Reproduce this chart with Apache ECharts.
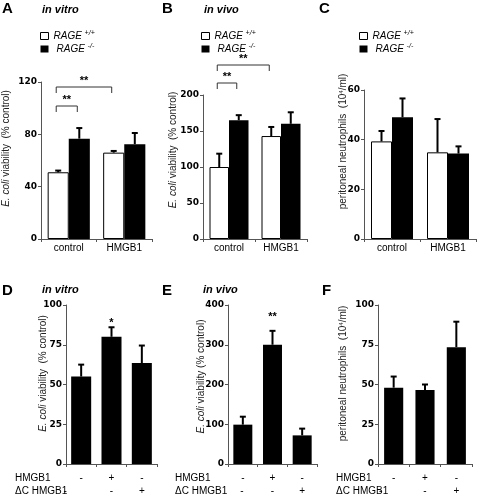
<!DOCTYPE html>
<html><head><meta charset="utf-8">
<script src="https://cdn.jsdelivr.net/npm/echarts@6/dist/echarts.min.js"></script>
<style>html,body{margin:0;padding:0;background:#fff}#c{width:480px;height:496px}</style>
</head><body><div id="c"></div><script>
// ---------- data ----------
const catsTop = ['control', 'HMGB1'];
const seriesNames = ['RAGE +/+', 'RAGE -/-'];
const aWT = [51, 66], aWTerr = [1.3, 1.3], aKO = [76.7, 72.5], aKOerr = [8.1, 8.5];
const bWT = [100, 143], bWTerr = [18.5, 12.6], bKO = [165, 160], bKOerr = [7, 16];
const cWT = [39.3, 34.9], cWTerr = [4.2, 13.4], cKO = [49, 34.4], cKOerr = [7.6, 2.9];
const catsBottom = ['1', '2', '3'];
const hmgb1Row = ['-', '+', '-'];
const dcRow = ['-', '-', '+'];
const dVal = [55, 80, 63.5], dErr = [7.5, 6, 11];
const eVal = [99, 300, 72], eErr = [20, 35, 17];
const fVal = [48, 46.5, 73.5], fErr = [7, 3.5, 16];
const dSig = ['', '*', ''];
const eSig = ['', '**', ''];
// significance brackets: [fromCat, fromSeries, toCat, toSeries, label]
const aBrackets = [[0, 0, 0, 1, '**'], [0, 0, 1, 0, '**']];
const bBrackets = [[0, 0, 0, 1, '**'], [0, 0, 1, 0, '**']];
const yMaxes = [120, 200, 60, 100, 400, 100];
const yIntervals = [40, 50, 20, 25, 100, 25];

// ---------- style / layout ----------
const FONT = "'Liberation Sans', Arial, sans-serif";
const TICKFONT = "'DejaVu Sans', sans-serif";
const AX = '#555';
const layout = [
  {left: 41, top: 82, width: 111, height: 157, gap: 0.24, nameGap: 30, shift: 12},
  {left: 203, top: 95, width: 104, height: 144, gap: 0.25, nameGap: 25, shift: 17},
  {left: 364, top: 90, width: 112, height: 149, gap: 0.25, nameGap: 16, shift: 23},
  {left: 66, top: 305, width: 91, height: 159, gap: 0.34, nameGap: 18, shift: 11},
  {left: 228, top: 305, width: 89, height: 159, gap: 0.36, nameGap: 22, shift: 8},
  {left: 378, top: 305, width: 94, height: 159, gap: 0.39, nameGap: 30, shift: 11}
];
const bracketLevels = [[24, 5], [-12, -30]]; // px from grid top, per bracket
const sigGap = [4, 14];
const dcShift = [16, 1, 13];

const yNames = [
  '{i|E. coli} viability  (% control)',
  '{i|E. coli} viability  (% control)',
  'peritoneal neutrophils  (10{sup|4}/ml)',
  '{i|E. coli} viability  (% control)',
  '{i|E. coli} viability (% control)',
  'peritoneal neutrophils  (10{sup|4}/ml)'
];

const chart = echarts.init(document.getElementById('c'), null, {renderer: 'canvas'});

const grids = layout.map(l => ({left: l.left, top: l.top, width: l.width, height: l.height, containLabel: false, outerBoundsMode: 'none'}));

const yAxes = layout.map((l, k) => ({
  gridIndex: k, type: 'value', min: 0, max: yMaxes[k], interval: yIntervals[k],
  axisLine: {show: true, lineStyle: {color: AX, width: 1}},
  axisTick: {show: true, length: 3, lineStyle: {color: AX}},
  splitLine: {show: false},
  axisLabel: {fontFamily: TICKFONT, fontWeight: 'bold', fontSize: 9, color: '#000', margin: 4},
  name: yNames[k], nameLocation: 'middle', nameRotate: 90, nameGap: l.nameGap, nameMoveOverlap: false,
  nameTextStyle: {
    fontFamily: FONT, fontSize: 10, color: '#222', padding: [0, 0, 0, 2 * l.shift],
    rich: {
      i: {fontFamily: FONT, fontSize: 10, fontStyle: 'italic', color: '#222'},
      sup: {fontFamily: FONT, fontSize: 6, color: '#222', verticalAlign: 'top'}
    }
  }
}));

const rowRich = k => ({
  a: {fontFamily: FONT, fontSize: 10, lineHeight: 13, color: '#000'},
  b: {fontFamily: FONT, fontSize: 10, lineHeight: 13, color: '#000'},
  b0: {fontFamily: FONT, fontSize: 10, lineHeight: 13, color: '#000', padding: [0, 2 * dcShift[k], 0, 0]}
});

const xAxes = layout.map((l, k) => {
  const top = k < 3;
  return {
    gridIndex: k, type: 'category', data: top ? catsTop : catsBottom,
    axisLine: {show: true, lineStyle: {color: AX, width: 1}},
    axisTick: {show: true, length: 3, lineStyle: {color: AX}},
    axisLabel: top
      ? {fontFamily: FONT, fontSize: 10, color: '#000', margin: 4, interval: 0}
      : {interval: 0, margin: 8,
         formatter: (v, i) => `{a|${hmgb1Row[i]}}\n{${i === 0 ? 'b0' : 'b'}|${dcRow[i]}}`,
         rich: rowRich(k - 3)}
  };
});

function barOffset(band, gap, slot, n) {
  const total = band * (1 - gap), bw = total / n;
  return -total / 2 + bw * (slot + 0.5);
}

function errSeries(gi, vals, errs, slot, n) {
  const gap = layout[gi].gap;
  return {
    type: 'custom', xAxisIndex: gi, yAxisIndex: gi, z: 5, clip: false, silent: true,
    data: vals.map((v, i) => [i, v, errs[i]]),
    renderItem(params, api) {
      const i = api.value(0), v = api.value(1), e = api.value(2);
      const band = api.size([1, 0])[0];
      const dx = barOffset(band, gap, slot, n);
      const p0 = api.coord([i, v]), p1 = api.coord([i, v + e]);
      const x = p0[0] + dx;
      return {type: 'group', children: [
        {type: 'line', shape: {x1: x, y1: p0[1], x2: x, y2: p1[1]}, style: {stroke: '#000', lineWidth: 2}},
        {type: 'line', shape: {x1: x - 3, y1: p1[1], x2: x + 3, y2: p1[1]}, style: {stroke: '#000', lineWidth: 2}}
      ]};
    }
  };
}

function bracketSeries(gi, brackets, levels) {
  const gap = layout[gi].gap;
  return {
    type: 'custom', xAxisIndex: gi, yAxisIndex: gi, z: 6, clip: false, silent: true,
    data: brackets.map((b, k) => [b[0], b[1], b[2], b[3], k]),
    renderItem(params, api) {
      const band = api.size([1, 0])[0];
      const k = api.value(4);
      const top = api.coord([0, yMaxes[gi]])[1] + levels[k];
      const x1 = api.coord([api.value(0), 0])[0] + barOffset(band, gap, api.value(1), 2) - 2;
      const x2 = api.coord([api.value(2), 0])[0] + barOffset(band, gap, api.value(3), 2) - 2;
      return {type: 'group', children: [
        {type: 'polyline', shape: {points: [[x1, top + 6], [x1, top], [x2, top], [x2, top + 6]]},
         style: {stroke: '#333', lineWidth: 1, fill: null}},
        {type: 'text', style: {x: (x1 + x2) / 2, y: top - 6, text: brackets[k][4], align: 'center', verticalAlign: 'middle',
          font: "bold 11px 'Liberation Sans', Arial, sans-serif", fill: '#000'}}
      ]};
    }
  };
}

function sigSeries(gi, vals, errs, sig, g) {
  return {
    type: 'custom', xAxisIndex: gi, yAxisIndex: gi, z: 6, clip: false, silent: true,
    data: vals.map((v, i) => [i, v + errs[i]]),
    renderItem(params, api) {
      const p = api.coord([api.value(0), api.value(1)]);
      return {type: 'text', style: {x: p[0], y: p[1] - g, text: sig[params.dataIndex], align: 'center', verticalAlign: 'middle',
        font: "bold 11px 'Liberation Sans', Arial, sans-serif", fill: '#000'}};
    }
  };
}

const whiteStyle = {color: '#fff', borderColor: '#000', borderWidth: 1};
const blackStyle = {color: '#000'};
function pairBars(gi, wt, ko) {
  const gapPct = Math.round(layout[gi].gap * 100) + '%';
  return [
    {type: 'bar', name: seriesNames[0], xAxisIndex: gi, yAxisIndex: gi, data: wt, barGap: '0%', barCategoryGap: gapPct, itemStyle: whiteStyle, silent: true},
    {type: 'bar', name: seriesNames[1], xAxisIndex: gi, yAxisIndex: gi, data: ko, barGap: '0%', barCategoryGap: gapPct, itemStyle: blackStyle, silent: true}
  ];
}
function singleBars(gi, vals) {
  const gapPct = Math.round(layout[gi].gap * 100) + '%';
  return {type: 'bar', name: 'panel' + gi, xAxisIndex: gi, yAxisIndex: gi, data: vals, barCategoryGap: gapPct, itemStyle: blackStyle, silent: true};
}

const series = [
  ...pairBars(0, aWT, aKO), errSeries(0, aWT, aWTerr, 0, 2), errSeries(0, aKO, aKOerr, 1, 2), bracketSeries(0, aBrackets, bracketLevels[0]),
  ...pairBars(1, bWT, bKO), errSeries(1, bWT, bWTerr, 0, 2), errSeries(1, bKO, bKOerr, 1, 2), bracketSeries(1, bBrackets, bracketLevels[1]),
  ...pairBars(2, cWT, cKO), errSeries(2, cWT, cWTerr, 0, 2), errSeries(2, cKO, cKOerr, 1, 2),
  singleBars(3, dVal), errSeries(3, dVal, dErr, 0, 1), sigSeries(3, dVal, dErr, dSig, sigGap[0]),
  singleBars(4, eVal), errSeries(4, eVal, eErr, 0, 1), sigSeries(4, eVal, eErr, eSig, sigGap[1]),
  singleBars(5, fVal), errSeries(5, fVal, fErr, 0, 1)
];

const legendRich = {
  n: {fontFamily: FONT, fontStyle: 'italic', fontSize: 10, color: '#000', lineHeight: 12},
  n2: {fontFamily: FONT, fontStyle: 'italic', fontSize: 10, color: '#000', lineHeight: 12, padding: [0, 0, 0, 3]},
  s: {fontFamily: FONT, fontStyle: 'italic', fontSize: 7, color: '#000', verticalAlign: 'top', lineHeight: 8}
};
const legends = [40, 201, 359].map(x => ({
  left: x, top: 30, orient: 'vertical', padding: 0, itemGap: 2, itemWidth: 8, itemHeight: 7, icon: 'rect',
  data: seriesNames, selectedMode: false,
  itemStyle: {borderWidth: 1},
  formatter: nm => nm === seriesNames[0] ? '{n|RAGE }{s|+/+}' : '{n2|RAGE }{s|-/-}',
  textStyle: {rich: legendRich}
}));

const letter = (t, x, y) => ({type: 'text', left: x, top: y, style: {text: t, font: "bold 15px 'Liberation Sans', Arial, sans-serif", fill: '#000'}});
const sub = (t, x, y) => ({type: 'text', left: x, top: y, style: {text: t, font: "italic bold 11px 'Liberation Sans', Arial, sans-serif", fill: '#000'}});
const rowHead = (t, x, y) => ({type: 'text', left: x, top: y, style: {text: t, font: "10px 'Liberation Sans', Arial, sans-serif", fill: '#000'}});

const graphic = [
  letter('A', 2, 1), letter('B', 162, 1), letter('C', 319, 1),
  letter('D', 2, 283), letter('E', 162, 283), letter('F', 322, 283),
  sub('in vitro', 42, 4), sub('in vivo', 204, 4), sub('in vitro', 42, 284), sub('in vivo', 203, 284),
  rowHead('HMGB1', 15, 473), rowHead('\u0394C HMGB1', 15, 486),
  rowHead('HMGB1', 175, 473), rowHead('\u0394C HMGB1', 175, 486),
  rowHead('HMGB1', 336, 473), rowHead('\u0394C HMGB1', 336, 486)
];

chart.setOption({
  animation: false,
  backgroundColor: '#fff',
  grid: grids, xAxis: xAxes, yAxis: yAxes,
  legend: legends,
  series: series,
  graphic: graphic
});
</script></body></html>
